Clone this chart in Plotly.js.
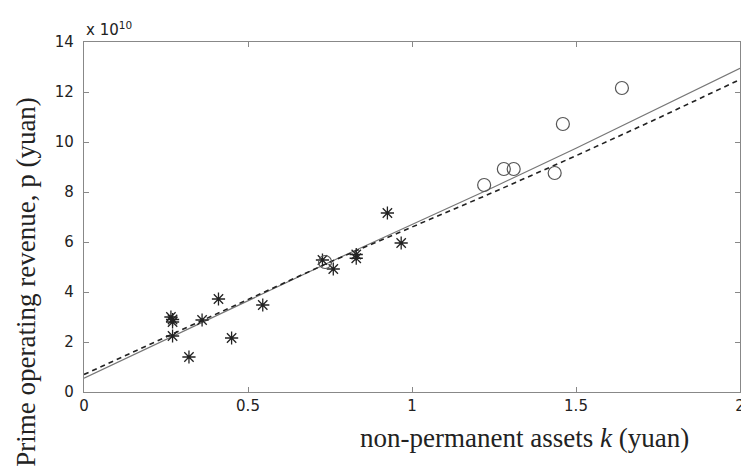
<!DOCTYPE html>
<html>
<head>
<meta charset="utf-8">
<script src="https://cdn.plot.ly/plotly-3.0.1.min.js"></script>
<style>html,body{margin:0;padding:0;background:#fff;}#chart{width:741px;height:475px;}</style>
</head>
<body>
<div id="chart"></div>
<script>
// Observed data, values in units of 1e10 yuan
const starK = [0.265, 0.27, 0.27, 0.27, 0.32, 0.36, 0.41, 0.45, 0.545, 0.727, 0.76, 0.83, 0.83, 0.925, 0.967];
const starP = [3.0, 2.8, 2.9, 2.24, 1.4, 2.88, 3.72, 2.16, 3.48, 5.28, 4.92, 5.5, 5.35, 7.16, 5.96];
const circK = [0.735, 1.22, 1.28, 1.31, 1.435, 1.46, 1.64];
const circP = [5.2, 8.28, 8.92, 8.92, 8.76, 10.72, 12.16];
// Fitted curves
const fitK = [0, 0.25, 0.5, 0.75, 1.0, 1.25, 1.5, 1.75, 2.0];
const fitSolid = [0.55, 2.1, 3.65, 5.2, 6.7, 8.2, 9.75, 11.35, 12.95];
const fitDashed = [0.7, 2.2, 3.7, 5.2, 6.6, 8.0, 9.45, 10.95, 12.5];
const xTicks = [0, 0.5, 1, 1.5, 2];
const yTicks = [0, 2, 4, 6, 8, 10, 12, 14];

const traces = [
  {x: fitK, y: fitSolid, mode: 'lines', line: {color: '#777', width: 1.2}, hoverinfo: 'skip'},
  {x: fitK, y: fitDashed, mode: 'lines', line: {color: '#222', width: 1.6, dash: '5px,4px'}, hoverinfo: 'skip'},
  {x: starK, y: starP, mode: 'markers', marker: {symbol: 'asterisk-open', size: 11, color: '#222', line: {color: '#222', width: 1.3}}},
  {x: circK, y: circP, mode: 'markers', marker: {symbol: 'circle-open', size: 13, color: '#555', line: {color: '#555', width: 1.2}}}
];

const axisCommon = {
  showgrid: false, zeroline: false, showline: true, mirror: 'allticks',
  linecolor: '#888', linewidth: 1.2, ticks: 'inside', ticklen: 5, tickcolor: '#888',
  ticklabeloverflow: 'allow',
  tickfont: {family: 'DejaVu Sans, Liberation Sans, Arial, sans-serif', size: 15, color: '#222'}
};

const layout = {
  width: 741, height: 475,
  margin: {l: 84, r: 1, t: 42, b: 83},
  paper_bgcolor: '#fff', plot_bgcolor: '#fff',
  showlegend: false,
  xaxis: Object.assign({}, axisCommon, {range: [0, 2], tickvals: xTicks, ticktext: xTicks.map(String)}),
  yaxis: Object.assign({}, axisCommon, {range: [0, 14], tickvals: yTicks, ticktext: yTicks.map(String), ticklabelstandoff: 6}),
  annotations: [
    {text: 'x 10<sup>10</sup>', xref: 'paper', yref: 'paper', x: 0, y: 1, xanchor: 'left', yanchor: 'bottom', yshift: 1, showarrow: false,
     font: {family: 'DejaVu Sans, Liberation Sans, Arial, sans-serif', size: 15, color: '#222'}},
    {text: 'non-permanent assets <i>k</i> (yuan)', xref: 'paper', yref: 'paper', x: 0.671, y: 0, xanchor: 'center', yanchor: 'middle', yshift: -46, showarrow: false,
     font: {family: 'Liberation Serif, Times New Roman, serif', size: 27, color: '#222'}},
    {text: 'Prime operating revenue, p (yuan)', xref: 'paper', yref: 'paper', x: 0, y: 0.315, xanchor: 'center', yanchor: 'middle', xshift: -58, textangle: -90, showarrow: false,
     font: {family: 'Liberation Serif, Times New Roman, serif', size: 27, color: '#222'}}
  ]
};

Plotly.newPlot('chart', traces, layout, {displayModeBar: false, staticPlot: true});
</script>
</body>
</html>
